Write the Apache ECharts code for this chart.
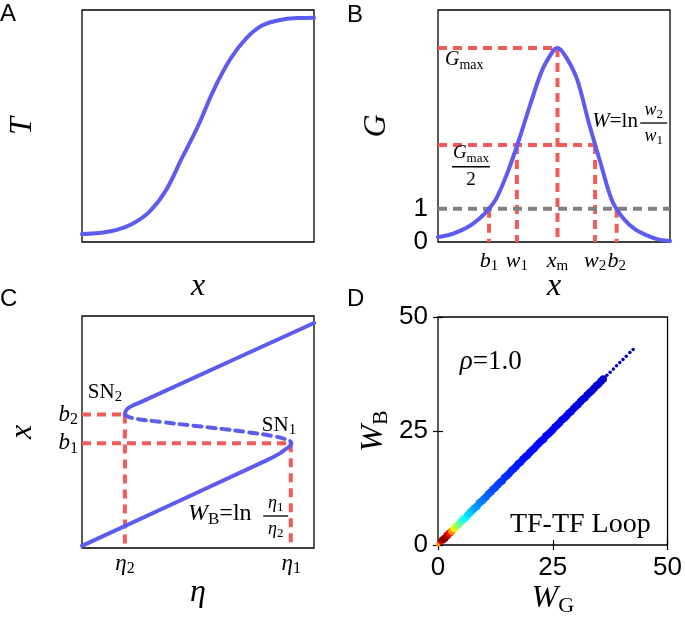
<!DOCTYPE html>
<html><head><meta charset="utf-8">
<script src="https://cdn.jsdelivr.net/npm/echarts@6/dist/echarts.min.js"></script>
<style>html,body{margin:0;padding:0;background:#fff}#c{width:685px;height:618px}</style>
</head><body><div id="c"></div>
<script>
// ---------- Panel A: sigmoid T(x) ----------
const aX = [0, 0.08, 0.15, 0.22, 0.29, 0.36, 0.43, 0.5, 0.57, 0.64, 0.71, 0.78, 0.86, 0.93, 1.0];
const aT = [0.034, 0.040, 0.052, 0.08, 0.13, 0.22, 0.36, 0.5, 0.66, 0.79, 0.88, 0.935, 0.958, 0.965, 0.967];

// ---------- Panel B: bell curve G(x) ----------
const bX = [0, 0.05, 0.10, 0.15, 0.20, 0.25, 0.30, 0.35, 0.40, 0.45, 0.50, 0.515, 0.55, 0.60, 0.65, 0.70, 0.75, 0.80, 0.85, 0.90, 0.95, 1.0];
const bG = [0.15, 0.22, 0.35, 0.55, 0.85, 1.3, 2.1, 3.1, 4.2, 5.2, 5.8, 5.85, 5.6, 4.9, 3.6, 2.4, 1.25, 0.7, 0.38, 0.2, 0.08, 0.03];
const bMarkNames = ['b1', 'w1', 'xm', 'w2', 'b2'];
const bMarkX = [0.22, 0.34, 0.515, 0.677, 0.77];
const bGmax = 5.85;
const bHalf = 2.93;
const bOne = 1;
const bYTickLabels = [0, 1];

// ---------- Panel C: bifurcation diagram ----------
const cUpperEta = [0.185, 0.186, 0.189, 0.195, 0.204, 0.217, 0.235, 0.26, 1.0];
const cUpperX   = [0.575, 0.583, 0.591, 0.599, 0.606, 0.613, 0.621, 0.632, 0.970];
const cMiddleEta = [0.185, 0.195, 0.21, 0.25, 0.42, 0.64, 0.78, 0.85, 0.885, 0.898, 0.902];
const cMiddleX   = [0.575, 0.568, 0.562, 0.554, 0.534, 0.509, 0.490, 0.477, 0.467, 0.460, 0.452];
const cLowerEta = [0.902, 0.900, 0.893, 0.880, 0.855, 0.80, 0];
const cLowerX   = [0.452, 0.444, 0.436, 0.427, 0.409, 0.38, 0.009];
const cSN2 = [0.185, 0.575];
const cSN1 = [0.902, 0.452];

// ---------- Panel D: W_B vs W_G scatter ----------
const dWG = [0,0.5,1,1.5,2,2.5,3,3.5,4,4.5,5,5.5,6,6.5,7,7.5,8,8.5,9,9.5,10,10.5,11,11.5,12,12.5,13,13.5,14,14.5,15,15.5,16,16.5,17,17.5,18,18.5,19,19.5,20,20.5,21,21.5,22,22.5,23,23.5,24,24.5,25,25.5,26,26.5,27,27.5,28,28.5,29,29.5,30,30.5,31,31.5,32,32.5,33,33.5,34,34.5,35,35.5,36,
  36.8,37.5,38.2,38.9,39.6,40.3,41.0,41.8,42.5];
const dWB = [0.1,0.6,1.1,1.5,2.1,2.6,3.0,3.6,4.1,4.5,5.1,5.6,6.0,6.6,7.1,7.6,8.1,8.5,9.2,9.6,10.1,10.6,11.2,11.6,12.2,12.6,13.2,13.7,14.1,14.8,15.2,15.7,16.3,16.7,17.2,17.8,18.2,18.8,19.3,19.7,20.3,20.8,21.2,21.8,22.3,22.8,23.2,23.9,24.3,24.8,25.3,25.9,26.3,26.8,27.4,27.8,28.3,28.9,29.3,29.9,30.4,30.8,31.4,31.9,32.3,32.9,33.4,33.8,34.4,34.9,35.3,35.9,36.4,
  37.2,37.9,38.6,39.3,40.0,40.7,41.4,42.2,42.9];
const dDensity = [0.72,0.86,0.96,1.00,0.95,0.86,0.74,0.64,0.56,0.50,0.45,0.41,0.38,0.35,0.33,0.31,0.29,0.275,0.26,0.25,0.24,0.23,0.22,0.21,0.20,0.195,0.19,0.185,0.18,0.175,0.17,0.166,0.162,0.158,0.155,0.152,0.149,0.146,0.143,0.14,0.138,0.136,0.134,0.132,0.13,0.128,0.126,0.124,0.122,0.12,0.118,0.116,0.114,0.112,0.11,0.108,0.106,0.104,0.102,0.10,0.098,0.096,0.094,0.092,0.09,0.088,0.086,0.084,0.082,0.08,0.078,0.077,0.076,
  0.07,0.068,0.066,0.064,0.062,0.06,0.058,0.056,0.055];
const dTicks = [0, 25, 50];

// ---------- styling ----------
const SERIF = "'Liberation Serif', 'DejaVu Serif', serif";
const SANS = "'Liberation Sans', Arial, sans-serif";
const BLUE = '#5c5cf0', RED = '#f35b5b', GRAY = '#808080';
const DASH = [9, 6];

function R(size) {
  const sub = Math.round(size * 0.7);
  return {
    i: {fontFamily: SERIF, fontStyle: 'italic', fontSize: size, color: '#000', lineHeight: size + 4},
    r: {fontFamily: SERIF, fontSize: size, color: '#000', lineHeight: size + 4},
    s: {fontFamily: SERIF, fontSize: sub, color: '#000', verticalAlign: 'bottom', lineHeight: Math.round(size * 0.45)},
    si: {fontFamily: SERIF, fontStyle: 'italic', fontSize: sub, color: '#000', verticalAlign: 'bottom', lineHeight: Math.round(size * 0.45)}
  };
}
function FR(size, barW) {
  const st = R(size);
  Object.keys(st).forEach(k => st[k].align = 'center');
  st.bar = {width: barW, height: 1.3, lineHeight: 4, backgroundColor: '#000', fontSize: 2, align: 'center'};
  return st;
}
function ann(x, y, text, rich, position, distance) {
  return {value: [x, y], label: {show: true, formatter: text, rich: rich, color: '#000', opacity: 1,
    position: position || 'inside', distance: distance == null ? 0 : distance}};
}
const sub = s => `{s|${s}}`;
function lbl(main, s, roman) { return (roman ? `{r|${main}}` : `{i|${main}}`) + sub(s); }

function hidden(grid, extra) {
  return Object.assign({type: 'value', gridIndex: grid, min: 0, max: 1,
    axisLine: {show: false}, axisTick: {show: false}, axisLabel: {show: false}, splitLine: {show: false}}, extra || {});
}
const nameStyle = {fontFamily: SERIF, fontStyle: 'italic', fontSize: 32, color: '#000'};

function seg(grid, pts, color, dashed, z) {
  return {type: 'line', xAxisIndex: grid, yAxisIndex: grid, data: pts, symbol: 'none', silent: true,
    lineStyle: {color: color, width: 4, type: dashed ? DASH : 'solid'}, z: z || 2, animation: false};
}
function curve(grid, xs, ys, dashed, smooth) {
  return {type: 'line', xAxisIndex: grid, yAxisIndex: grid, data: xs.map((x, i) => [x, ys[i]]), symbol: 'none',
    smooth: smooth, silent: true, lineStyle: {color: BLUE, width: 4, type: dashed ? [8, 6] : 'solid', cap: 'round', join: 'round'}, z: 5, animation: false};
}
function annSeries(grid, data) {
  return {type: 'scatter', xAxisIndex: grid, yAxisIndex: grid, symbolSize: 0, silent: true, z: 10,
    itemStyle: {opacity: 1, color: '#000'}, data: data, animation: false};
}

const series = [];
// A
series.push(curve(0, aX, aT, false, 0.4));
// B
const bTop = {b1: bOne, w1: bHalf, xm: bGmax, w2: bHalf, b2: bOne};
series.push(seg(1, [[0, bGmax], [bMarkX[2], bGmax]], RED, true));
series.push(seg(1, [[0, bHalf], [bMarkX[3], bHalf]], RED, true));
bMarkNames.forEach((n, i) => series.push(seg(1, [[bMarkX[i], bTop[n]], [bMarkX[i], 0]], RED, true)));
series.push(seg(1, [[0, bOne], [1, bOne]], GRAY, true, 3));
series.push(curve(1, bX, bG, false, 0.3));
const bTickText = {b1: lbl('b', '1'), w1: lbl('w', '1'), xm: lbl('x', 'm'), w2: lbl('w', '2'), b2: lbl('b', '2')};
series.push(annSeries(1, bMarkNames.map((n, i) => ann(bMarkX[i], 0, bTickText[n], R(22), 'bottom', 6))
  .concat([
    ann(0.03, 5.49, lbl('G', 'max'), R(20), 'right'),
    ann(0.142, 2.27, '{i|G}{s|max}\n{bar| }\n{r|2}', FR(19, 38), 'inside'),
    ann(0.665, 3.65, '{i|W}{r|=ln}', R(21), 'right'),
    ann(0.93, 3.59, '{i|w}{s|2}\n{bar| }\n{i|w}{s|1}', FR(18, 27), 'inside')
  ])));
// C
series.push(seg(2, [[0, cSN2[1]], [cSN2[0], cSN2[1]]], RED, true));
series.push(seg(2, [[0, cSN1[1]], [cSN1[0], cSN1[1]]], RED, true));
series.push(seg(2, [[cSN2[0], cSN2[1]], [cSN2[0], 0]], RED, true));
series.push(seg(2, [[cSN1[0] - 0.002, cSN1[1]], [cSN1[0] - 0.002, 0]], RED, true));
series.push(curve(2, cUpperEta, cUpperX, false, 0.15));
series.push(curve(2, cMiddleEta, cMiddleX, true, 0.15));
series.push(curve(2, cLowerEta, cLowerX, false, 0.15));
series.push(annSeries(2, [
  ann(0, cSN2[1], lbl('b', '2'), R(23), 'left', 4),
  ann(0, cSN1[1], lbl('b', '1'), R(23), 'left', 4),
  ann(cSN2[0], 0, lbl('η', '2'), R(23), 'bottom', 2),
  ann(cSN1[0], 0, lbl('η', '1'), R(23), 'bottom', 2),
  ann(0.099, 0.672, lbl('SN', '2', true), R(21), 'inside'),
  ann(0.849, 0.530, lbl('SN', '1', true), R(21), 'inside'),
  ann(0.457, 0.147, '{i|W}{s|B}{r|=ln}', R(24), 'right'),
  ann(0.835, 0.138, '{i|η}{s|1}\n{bar| }\n{i|η}{s|2}', FR(18, 25), 'inside')
]));
// D
const dIndex = series.length;
series.push({type: 'scatter', xAxisIndex: 3, yAxisIndex: 3, animation: false, z: 4,
  data: dWG.map((x, i) => [x, dWB[i], dDensity[i]]),
  symbolSize: v => v[0] > 36.2 ? 3.5 : (v[0] < 0.8 ? 4.5 : 7.5),
  itemStyle: {opacity: 1}});
series.push(annSeries(3, [
  ann(4.74, 40.2, '{i|ρ}{r|=1.0}', R(27), 'right'),
  ann(31.0, 4.5, '{r|TF-TF Loop}', R(28), 'inside')
]));

const dAxisCommon = {type: 'value', gridIndex: 3, min: 0, max: 50, interval: 25,
  axisLine: {show: false}, splitLine: {show: false},
  axisTick: {show: true, inside: true, length: 5, lineStyle: {color: '#000', width: 1.2}}};

const option = {
  backgroundColor: '#fff',
  animation: false,
  title: [
    {text: 'A', left: 0, top: 2},
    {text: 'B', left: 347, top: 3},
    {text: 'C', left: 0, top: 287},
    {text: 'D', left: 347, top: 287}
  ].map(t => Object.assign(t, {padding: 0, textStyle: {fontFamily: SANS, fontSize: 24, fontWeight: 'normal', color: '#000'}})),
  grid: [
    {left: 82, top: 10, width: 232, height: 232},
    {left: 438, top: 10, width: 232, height: 232},
    {left: 82, top: 316, width: 232, height: 232},
    {left: 438, top: 317, width: 232, height: 231}
  ].map(g => Object.assign(g, {show: true, borderColor: '#000', borderWidth: 1.3, backgroundColor: 'transparent'})),
  xAxis: [
    hidden(0, {name: 'x', nameLocation: 'middle', nameGap: 29, nameTextStyle: nameStyle}),
    hidden(1, {name: 'x', nameLocation: 'middle', nameGap: 29, nameTextStyle: nameStyle}),
    hidden(2, {name: 'η', nameLocation: 'middle', nameGap: 29, nameTextStyle: nameStyle}),
    Object.assign({}, dAxisCommon, {position: 'bottom', name: '{i|W}{s|G}', nameLocation: 'middle', nameGap: 36,
      nameTextStyle: {rich: R(32)},
      axisLabel: {margin: 10, fontFamily: SANS, fontSize: 26, color: '#000',
        formatter: v => dTicks.includes(v) ? String(v) : ''}}),
    Object.assign({}, dAxisCommon, {position: 'top', axisLabel: {show: false}})
  ],
  yAxis: [
    hidden(0, {name: 'T', nameLocation: 'middle', nameGap: 43, nameTextStyle: nameStyle}),
    hidden(1, {max: 7, interval: 1, name: 'G', nameLocation: 'middle', nameGap: 45, nameTextStyle: nameStyle,
      axisLabel: {show: true, margin: 10, fontFamily: SANS, fontSize: 26, color: '#000',
        formatter: v => bYTickLabels.includes(v) ? String(v) : ''}}),
    hidden(2, {name: 'x', nameLocation: 'middle', nameGap: 43, nameTextStyle: nameStyle}),
    Object.assign({}, dAxisCommon, {position: 'left', name: '{i|W}{s|B}', nameLocation: 'middle', nameGap: 46,
      nameTextStyle: {rich: R(32)},
      axisLabel: {margin: 10, fontFamily: SANS, fontSize: 26, color: '#000',
        formatter: v => dTicks.includes(v) ? String(v) : ''}}),
    Object.assign({}, dAxisCommon, {position: 'right', axisLabel: {show: false}})
  ],
  visualMap: {type: 'continuous', show: false, seriesIndex: dIndex, dimension: 2, min: 0, max: 1,
    inRange: {color: ['#00007f', '#0000ff', '#007fff', '#00ffff', '#7fff7f', '#ffff00', '#ff7f00', '#ff0000', '#7f0000']}},
  series: series
};
const chart = echarts.init(document.getElementById('c'), null, {renderer: 'canvas'});
chart.setOption(option);
</script>
</body></html>
